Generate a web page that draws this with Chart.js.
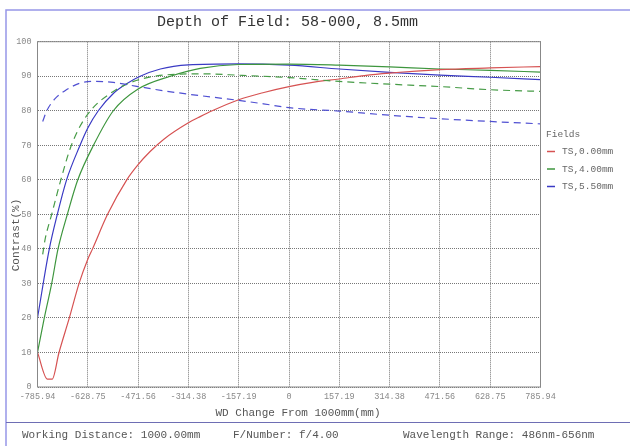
<!DOCTYPE html>
<html lang="en">
<head>
<meta charset="UTF-8">
<title>Depth of Field: 58-000, 8.5mm</title>
<script src="https://cdn.jsdelivr.net/npm/chart.js"></script>
<style>
  html, body { margin: 0; padding: 0; background: #fff; }
  #wrap { width: 630px; height: 446px; position: relative; }
</style>
</head>
<body>
<div id="wrap"><canvas id="dofChart"></canvas></div>
<script>
// tick positions along the WD axis
const xTicks = [-785.94, -628.75, -471.56, -314.38, -157.19, 0, 157.19, 314.38, 471.56, 628.75, 785.94];
const xTickLabels = ['-785.94', '-628.75', '-471.56', '-314.38', '-157.19', '0', '157.19', '314.38', '471.56', '628.75', '785.94'];

// TS 0.00mm (red, solid)
const redX = [-785.94, -755, -740, -718.7, -686.5, -656, -628.75, -614, -567, -507, -471.56, -434, -392, -314.38, -277.6, -240, -157.19, -78.6, 0, 78.6, 157.19, 235.8, 314.38, 471.56, 628.75, 785.94];
const redY = [10, 2.3, 2.3, 10, 20, 30, 37, 40, 50, 60, 64.4, 68.2, 71.7, 76.5, 78.3, 80, 83.2, 85.3, 87.0, 88.3, 89.2, 90.2, 90.9, 91.9, 92.4, 92.8];

// TS 4.00mm (green, solid)
const greenX = [-785.94, -764.7, -741.5, -721.8, -692.7, -660, -611, -549, -471.56, -371, -277.6, -157.19, 0, 157.19, 314.38, 471.56, 628.75, 785.94];
const greenY = [10, 20, 30, 40, 50, 60, 70, 80, 86.3, 90, 92.3, 93.4, 93.5, 93.2, 92.7, 92.1, 91.7, 91.2];

// TS 5.50mm (blue, solid)
const blueX = [-785.94, -749, -724, -695, -653, -628.75, -596, -549, -510, -465, -402, -314.38, -157.19, 0, 157.19, 314.38, 471.56, 628.75, 785.94];
const blueY = [20, 40, 50, 60, 70, 75, 80, 85, 87.7, 90, 92.1, 93.3, 93.6, 93.2, 92.1, 91.1, 90.3, 89.7, 89.0];

// SS 4.00mm (green, dashed)
const greenSX = [-769.7, -762.5, -741.6, -713, -684, -653, -616, -549, -486, -413, -340, -277.6, -157.19, 0, 157.19, 314.38, 471.56, 628.75, 785.94];
const greenSY = [38.4, 42.6, 50, 60, 69, 75.5, 80.5, 85.6, 88.5, 90.1, 90.6, 90.7, 90.3, 89.6, 88.5, 87.7, 87.0, 86.1, 85.6];

// SS 5.50mm (blue, dashed)
const blueSX = [-769.7, -757, -731, -700, -674, -653, -611, -549, -471.56, -392, -314.38, -157.19, -79.6, 0, 157.19, 314.38, 471.56, 628.75, 785.94];
const blueSY = [76.9, 80, 83.5, 85.8, 87.2, 88.0, 88.5, 88.2, 87.0, 85.8, 84.8, 83.0, 82.0, 80.9, 79.9, 78.7, 77.7, 76.9, 76.2];

const fieldNames = ['TS,0.00mm', 'TS,4.00mm', 'TS,5.50mm'];
const fieldColors = ['rgb(214,82,82)', 'rgb(62,150,62)', 'rgb(58,58,196)'];

const titleText = 'Depth of Field: 58-000, 8.5mm';
const xTitle = 'WD Change From 1000mm(mm)';
const yTitle = 'Contrast(%)';
const footerItems = [
  ['Working Distance: 1000.00mm', 22],
  ['F/Number: f/4.00', 233],
  ['Wavelength Range: 486nm-656nm', 403]
];

const MONO = '"Liberation Mono", "DejaVu Sans Mono", monospace';

function pts(xs, ys) {
  return xs.map((x, i) => ({ x: x, y: ys[i] }));
}

function line(data, color, dashed) {
  return {
    data: data,
    borderColor: color,
    borderWidth: 1.2,
    borderDash: dashed ? [7, 5] : [],
    pointRadius: 0,
    fill: false,
    cubicInterpolationMode: 'monotone'
  };
}

// frame, titles, legend and footer
const decorations = {
  id: 'decorations',
  afterDraw(chart) {
    const ctx = chart.ctx;
    const area = chart.chartArea;
    ctx.save();

    // outer frame
    ctx.strokeStyle = 'rgb(150,150,232)';
    ctx.lineWidth = 1.5;
    ctx.beginPath();
    ctx.moveTo(6, 446);
    ctx.lineTo(6, 10);
    ctx.lineTo(630, 10);
    ctx.stroke();
    ctx.strokeStyle = 'rgb(110,110,180)';
    ctx.lineWidth = 1.2;
    ctx.beginPath();
    ctx.moveTo(6, 422.5);
    ctx.lineTo(630, 422.5);
    ctx.stroke();

    // title
    ctx.fillStyle = '#333';
    ctx.font = '15px ' + MONO;
    ctx.textAlign = 'center';
    ctx.textBaseline = 'middle';
    ctx.fillText(titleText, 287.5, 22.5);

    // axis titles
    ctx.fillStyle = '#555';
    ctx.font = '11px ' + MONO;
    ctx.fillText(xTitle, 298, 413);
    ctx.save();
    ctx.translate(16, 235);
    ctx.rotate(-Math.PI / 2);
    ctx.fillText(yTitle, 0, 0);
    ctx.restore();

    // legend
    ctx.textAlign = 'left';
    ctx.font = '9.5px ' + MONO;
    ctx.fillStyle = '#666';
    ctx.fillText('Fields', 546, 134);
    fieldNames.forEach((name, i) => {
      const y = 151.5 + i * 17.5;
      ctx.strokeStyle = fieldColors[i];
      ctx.lineWidth = 1.5;
      ctx.beginPath();
      ctx.moveTo(547, y);
      ctx.lineTo(555, y);
      ctx.stroke();
      ctx.fillStyle = '#666';
      ctx.fillText(name, 562, y);
    });

    // footer
    ctx.font = '11px ' + MONO;
    ctx.fillStyle = '#555';
    footerItems.forEach(([text, x]) => ctx.fillText(text, x, 435.5));

    // plot border
    ctx.strokeStyle = '#888';
    ctx.lineWidth = 1;
    ctx.strokeRect(area.left, area.top, area.right - area.left, area.bottom - area.top);
    ctx.restore();
  }
};

const ctx = document.getElementById('dofChart').getContext('2d');
new Chart(ctx, {
  type: 'line',
  data: {
    datasets: [
      line(pts(blueSX, blueSY), 'rgb(80,80,210)', true),
      line(pts(greenSX, greenSY), 'rgb(70,155,70)', true),
      line(pts(redX, redY), fieldColors[0], false),
      line(pts(greenX, greenY), fieldColors[1], false),
      line(pts(blueX, blueY), fieldColors[2], false)
    ]
  },
  options: {
    responsive: true,
    maintainAspectRatio: false,
    animation: false,
    layout: { padding: { left: 0, top: 41.7, right: 89.5, bottom: 0 } },
    plugins: {
      legend: { display: false },
      title: { display: false },
      tooltip: { enabled: false }
    },
    scales: {
      x: {
        type: 'linear',
        min: -785.94,
        max: 785.94,
        afterBuildTicks: (scale) => { scale.ticks = xTicks.map(v => ({ value: v })); },
        afterFit: (scale) => { scale.height = 59; },
        ticks: {
          autoSkip: false,
          maxRotation: 0,
          padding: 5,
          color: '#888',
          font: { family: MONO, size: 8.5 },
          callback: (v, i) => xTickLabels[i]
        },
        grid: { color: '#777', lineWidth: 1, drawTicks: false },
        border: { display: false, dash: [1, 1] }
      },
      y: {
        min: 0,
        max: 100,
        afterFit: (scale) => { scale.width = 37.5; },
        ticks: {
          stepSize: 10,
          padding: 6,
          color: '#888',
          font: { family: MONO, size: 8.5 }
        },
        grid: { color: '#777', lineWidth: 1, drawTicks: false },
        border: { display: false, dash: [1, 1] }
      }
    }
  },
  plugins: [decorations]
});
</script>
</body>
</html>
